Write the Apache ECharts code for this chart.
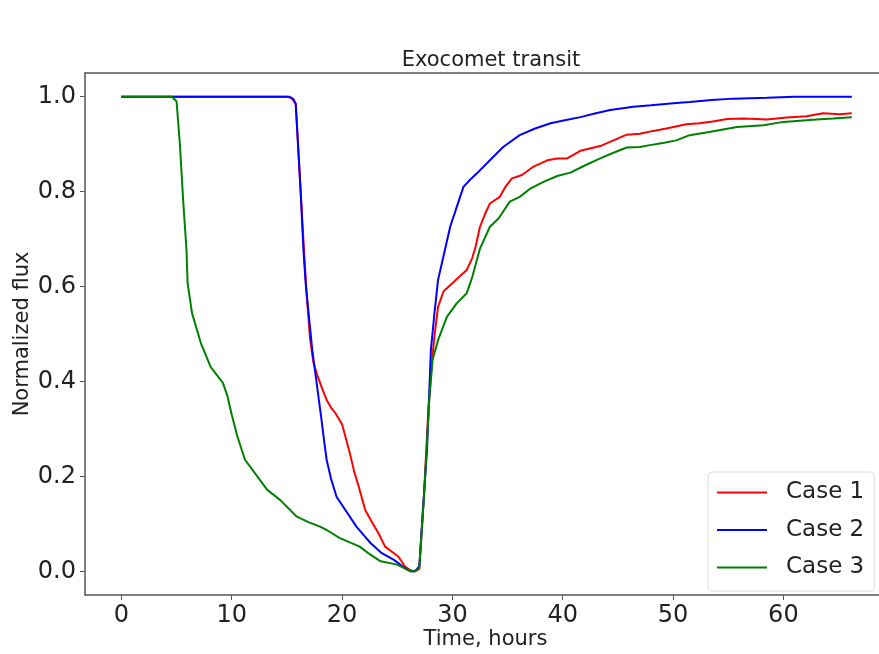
<!DOCTYPE html>
<html>
<head>
<meta charset="utf-8">
<title>Exocomet transit</title>
<script src="https://cdn.jsdelivr.net/npm/echarts@6/dist/echarts.min.js"></script>
<style>
  body { margin: 0; background: #fff; }
  #main { width: 879px; height: 654px; }
</style>
</head>
<body>
<div id="main"></div>
<script>
// [time in hours, normalized flux]
var case1 = [[0,1],[5,1],[10,1],[15,1],[15.4,0.998],[15.8,0.985],[16.2,0.82],[16.6,0.656],[16.8,0.58],[17.1,0.49],[17.4,0.44],[17.8,0.41],[18.2,0.385],[18.6,0.361],[19.0,0.345],[19.4,0.333],[20.0,0.31],[20.3,0.284],[20.7,0.249],[21.1,0.21],[21.5,0.179],[22.1,0.129],[22.6,0.108],[23.3,0.08],[23.9,0.052],[24.7,0.038],[25.1,0.031],[25.7,0.01],[26.2,0.002],[26.6,0],[27.0,0.005],[27.4,0.15],[27.8,0.33],[28.1,0.431],[28.4,0.501],[28.7,0.557],[29.2,0.59],[29.9,0.605],[30.6,0.62],[31.3,0.635],[31.8,0.66],[32.1,0.684],[32.5,0.726],[33.0,0.755],[33.4,0.775],[34.3,0.789],[34.8,0.81],[35.4,0.828],[36.3,0.835],[37.3,0.852],[38.6,0.866],[39.5,0.87],[40.4,0.87],[41.6,0.886],[43.4,0.896],[44.6,0.908],[45.8,0.92],[47.0,0.922],[48.2,0.928],[49.4,0.933],[51.2,0.942],[52.4,0.944],[53.6,0.948],[54.9,0.953],[56.4,0.954],[57.5,0.953],[58.5,0.952],[60.3,0.956],[62.1,0.959],[63.6,0.965],[65.1,0.963],[66.2,0.965]]
var case2 = [[0,1],[5,1],[10,1],[15.2,1],[15.6,0.995],[15.8,0.985],[16.2,0.82],[16.5,0.677],[16.7,0.607],[17.0,0.536],[17.3,0.466],[17.7,0.396],[18.1,0.326],[18.4,0.27],[18.6,0.235],[19.0,0.195],[19.5,0.157],[20.3,0.129],[21.3,0.094],[22.0,0.075],[22.6,0.059],[23.6,0.038],[24.7,0.024],[25.5,0.01],[26.2,0],[26.6,0],[27.0,0.01],[27.3,0.12],[27.7,0.256],[28.05,0.466],[28.4,0.55],[28.7,0.614],[29.2,0.665],[29.8,0.726],[30.3,0.761],[31.0,0.81],[31.6,0.825],[32.2,0.838],[33.4,0.866],[34.6,0.894],[36.1,0.919],[37.5,0.933],[38.9,0.944],[40.3,0.951],[41.6,0.957],[43.0,0.965],[44.3,0.972],[46.4,0.979],[48.0,0.982],[50.3,0.987],[51.5,0.989],[53.5,0.993],[55.5,0.996],[58.5,0.998],[61,1],[66.2,1]]
var case3 = [[0,1],[4.6,1],[5.0,0.99],[5.3,0.9],[5.6,0.78],[5.9,0.677],[6.0,0.607],[6.4,0.544],[7.2,0.481],[8.1,0.43],[9.2,0.397],[9.6,0.37],[10.0,0.33],[10.5,0.285],[10.9,0.256],[11.2,0.235],[12.0,0.21],[13.2,0.172],[14.4,0.15],[15.9,0.115],[17.0,0.103],[18.0,0.094],[18.6,0.087],[19.8,0.07],[21.6,0.052],[22.5,0.036],[23.5,0.021],[25.0,0.014],[26.2,0],[26.6,0],[27.0,0.007],[27.5,0.186],[27.9,0.36],[28.2,0.445],[28.7,0.487],[29.5,0.536],[30.4,0.565],[31.3,0.586],[31.8,0.62],[32.5,0.68],[33.4,0.726],[34.2,0.744],[35.2,0.779],[36.1,0.789],[37.1,0.807],[38.3,0.821],[39.5,0.833],[40.7,0.84],[41.9,0.854],[43.4,0.87],[44.6,0.882],[45.8,0.893],[47.0,0.894],[47.9,0.898],[49.2,0.903],[50.3,0.908],[51.5,0.919],[53.4,0.926],[55.8,0.936],[58.2,0.94],[60.0,0.947],[63.0,0.952],[64.5,0.954],[66.2,0.957]]
var seriesNames = ['Case 1', 'Case 2', 'Case 3']
var xTicks = [0, 10, 20, 30, 40, 50, 60]
var yTicks = [0, 0.2, 0.4, 0.6, 0.8, 1.0]

var font = 'DejaVu Sans'
var frame = { show: true, onZero: false, lineStyle: { color: '#555', width: 1.5 } }
var myChart = echarts.init(document.getElementById('main'))
var option = {
  animation: false,
  textStyle: { fontFamily: font },
  title: {
    text: 'Exocomet transit',
    left: 486, top: 45, textAlign: 'center',
    textStyle: { fontFamily: font, fontSize: 21, fontWeight: 'normal', color: '#222' }
  },
  grid: {
    left: 85, top: 73, width: 801, height: 522,
    show: false,
    outerBoundsMode: 'none', containLabel: false
  },
  legend: {
    orient: 'vertical',
    left: 708, top: 472,
    data: seriesNames,
    padding: [9, 10, 12, 8],
    itemWidth: 50, itemHeight: 20, itemGap: 14.5,
    itemStyle: { opacity: 0 },
    backgroundColor: '#fff',
    borderColor: '#ddd', borderWidth: 1, borderRadius: 4,
    textStyle: { fontFamily: font, fontSize: 23, color: '#222', padding: [0, 0, 0, 14] }
  },
  xAxis: [{
    type: 'value',
    min: -3.3, max: 69.3,
    name: 'Time, hours', nameLocation: 'middle', nameGap: 34, nameMoveOverlap: false,
    nameTextStyle: { fontFamily: font, fontSize: 21, color: '#222' },
    axisLine: frame,
    axisTick: { show: true, length: 5, customValues: xTicks, lineStyle: { color: '#555' } },
    axisLabel: { customValues: xTicks, fontSize: 24, color: '#222', margin: 9 },
    splitLine: { show: false }
  }, {
    type: 'value', position: 'top',
    min: -3.3, max: 69.3,
    axisLine: frame,
    axisTick: { show: false }, axisLabel: { show: false }, splitLine: { show: false }
  }],
  yAxis: {
    type: 'value',
    min: -0.05, max: 1.05,
    name: 'Normalized flux', nameLocation: 'middle', nameGap: 52, nameMoveOverlap: false,
    nameTextStyle: { fontFamily: font, fontSize: 21, color: '#222' },
    axisLine: frame,
    axisTick: { show: true, length: 5, customValues: yTicks, lineStyle: { color: '#555' } },
    axisLabel: {
      customValues: yTicks, fontSize: 24, color: '#222', margin: 9,
      formatter: function(v) { return v.toFixed(1) }
    },
    splitLine: { show: false }
  },
  series: [
    { name: seriesNames[0], type: 'line', data: case1, symbol: 'none', color: '#ff0000', lineStyle: { width: 2 } },
    { name: seriesNames[1], type: 'line', data: case2, symbol: 'none', color: '#0000ff', lineStyle: { width: 2 } },
    { name: seriesNames[2], type: 'line', data: case3, symbol: 'none', color: '#008000', lineStyle: { width: 2 } }
  ]
}
myChart.setOption(option)
</script>
</body>
</html>
